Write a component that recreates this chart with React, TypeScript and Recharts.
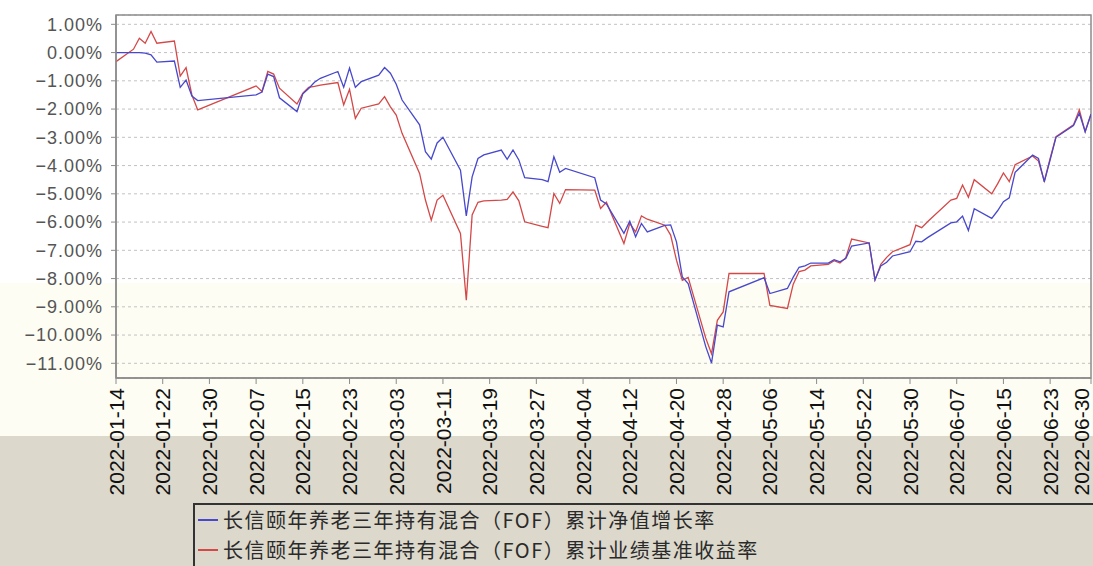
import React from 'react';
import { LineChart, Line, XAxis, YAxis, CartesianGrid, ReferenceArea } from 'recharts';

// Trading days shown in the chart
const dates = [
  '2022-01-14', '2022-01-17', '2022-01-18', '2022-01-19', '2022-01-20', '2022-01-21', '2022-01-24', '2022-01-25', '2022-01-26', '2022-01-27', '2022-01-28',
  '2022-02-07', '2022-02-08', '2022-02-09', '2022-02-10', '2022-02-11', '2022-02-14', '2022-02-15', '2022-02-16', '2022-02-17', '2022-02-18', '2022-02-21', '2022-02-22', '2022-02-23', '2022-02-24', '2022-02-25', '2022-02-28',
  '2022-03-01', '2022-03-02', '2022-03-03', '2022-03-04', '2022-03-07', '2022-03-08', '2022-03-09', '2022-03-10', '2022-03-11', '2022-03-14', '2022-03-15', '2022-03-16', '2022-03-17', '2022-03-18', '2022-03-21', '2022-03-22', '2022-03-23', '2022-03-24', '2022-03-25', '2022-03-28', '2022-03-29', '2022-03-30', '2022-03-31',
  '2022-04-01', '2022-04-06', '2022-04-07', '2022-04-08', '2022-04-11', '2022-04-12', '2022-04-13', '2022-04-14', '2022-04-15', '2022-04-18', '2022-04-19', '2022-04-20', '2022-04-21', '2022-04-22', '2022-04-25', '2022-04-26', '2022-04-27', '2022-04-28', '2022-04-29',
  '2022-05-05', '2022-05-06', '2022-05-09', '2022-05-10', '2022-05-11', '2022-05-12', '2022-05-13', '2022-05-16', '2022-05-17', '2022-05-18', '2022-05-19', '2022-05-20', '2022-05-23', '2022-05-24', '2022-05-25', '2022-05-26', '2022-05-27', '2022-05-30', '2022-05-31',
  '2022-06-01', '2022-06-02', '2022-06-06', '2022-06-07', '2022-06-08', '2022-06-09', '2022-06-10', '2022-06-13', '2022-06-14', '2022-06-15', '2022-06-16', '2022-06-17', '2022-06-20', '2022-06-21', '2022-06-22', '2022-06-23', '2022-06-24', '2022-06-27', '2022-06-28', '2022-06-29', '2022-06-30',
];

// 累计净值增长率 (%)
const navGrowth = [
  0, 0, 0, -0.02, -0.08, -0.34, -0.3, -1.23, -0.97, -1.54, -1.7,
  -1.5, -1.4, -0.76, -0.85, -1.6, -2.09, -1.46, -1.27, -1.05, -0.91, -0.67, -1.23, -0.55, -1.23, -1.03, -0.8,
  -0.53, -0.73, -1.12, -1.68, -2.56, -3.51, -3.77, -3.2, -3.0, -4.16, -5.78, -4.4, -3.75, -3.62, -3.45, -3.78, -3.45, -3.8, -4.43, -4.5, -4.57, -3.69, -4.24,
  -4.1, -4.43, -5.22, -5.36, -6.4, -5.97, -6.52, -6.05, -6.35, -6.12, -6.1, -6.7, -7.94, -8.18, -10.4, -10.99, -9.65, -9.71, -8.47,
  -7.97, -8.53, -8.35, -7.95, -7.6, -7.55, -7.45, -7.45, -7.33, -7.41, -7.29, -6.85, -6.74, -8.05, -7.55, -7.42, -7.2, -7.05, -6.68,
  -6.7, -6.55, -6.03, -5.99, -5.79, -6.3, -5.53, -5.87, -5.6, -5.28, -5.14, -4.24, -3.63, -3.75, -4.58, -3.8, -3.0, -2.58, -2.15, -2.8, -2.18,
];

// 累计业绩基准收益率 (%)
const benchmark = [
  -0.32, 0.12, 0.51, 0.33, 0.75, 0.33, 0.41, -0.83, -0.53, -1.5, -2.03,
  -1.18, -1.38, -0.67, -0.76, -1.26, -1.82, -1.44, -1.23, -1.2, -1.15, -1.06, -1.85, -1.3, -2.33, -1.97, -1.82,
  -1.56, -1.92, -2.21, -2.86, -4.28, -5.22, -5.93, -5.22, -5.05, -6.4, -8.77, -5.75, -5.3, -5.25, -5.22, -5.2, -4.93, -5.25, -5.99, -6.15, -6.2, -4.99, -5.34,
  -4.85, -4.87, -5.52, -5.3, -6.76, -6.05, -6.35, -5.78, -5.9, -6.11, -6.46, -7.35, -8.06, -7.96, -10.1, -10.66, -9.48, -9.18, -7.82,
  -7.82, -8.95, -9.06, -8.2, -7.75, -7.7, -7.55, -7.5, -7.37, -7.45, -7.26, -6.6, -6.74, -8.05, -7.5, -7.25, -7.05, -6.8, -6.11,
  -6.2, -5.99, -5.22, -5.16, -4.69, -5.12, -4.5, -5.0, -4.65, -4.26, -4.57, -3.97, -3.66, -3.84, -4.55, -3.75, -2.98, -2.56, -2.03, -2.8, -2.18,
];

const seriesNames = [
  '长信颐年养老三年持有混合（FOF）累计净值增长率',
  '长信颐年养老三年持有混合（FOF）累计业绩基准收益率',
];
const seriesColors = ['#4848cc', '#d44848'];

const yTicks = [1, 0, -1, -2, -3, -4, -5, -6, -7, -8, -9, -10, -11];
const yDomain: [number, number] = [-11.52, 1.33];
const startDate = '2022-01-14';
const endDate = '2022-06-30';
const tickStepDays = 8;

const DAY = 86400000;
const toUtc = (s: string) => {
  const [y, m, d] = s.split('-').map(Number);
  return Date.UTC(y, m - 1, d);
};
const START = toUtc(startDate);
const dayOf = (s: string) => Math.round((toUtc(s) - START) / DAY);
const fmtDay = (d: number) => new Date(START + d * DAY).toISOString().slice(0, 10);
const lastDay = dayOf(endDate);
const xTicks: number[] = [];
for (let d = 0; d <= lastDay; d += tickStepDays) xTicks.push(d);
if (xTicks[xTicks.length - 1] !== lastDay) xTicks.push(lastDay);

const data = dates.map((s, i) => ({ day: dayOf(s), nav: navGrowth[i], bench: benchmark[i] }));

const fmtPct = (v: number) => (v < 0 ? '\u2212' : '') + Math.abs(v).toFixed(2) + '%';

const XTick = (props: any) => {
  const { x, y, payload } = props;
  const tx = Math.min(x, 1081);
  return (
    <text
      transform={`translate(${tx},${y + 2}) rotate(-90)`}
      textAnchor="end"
      dy="0.36em"
      fontSize={21}
      fontFamily="'Liberation Sans', Arial, sans-serif"
      fill="#111"
    >
      {fmtDay(payload.value)}
    </text>
  );
};

export default function App() {
  return (
    <div style={{ position: 'absolute', left: 0, top: 0, width: 1093, height: 566, overflow: 'hidden', background: '#ffffff' }}>
      <div style={{ position: 'absolute', left: 0, top: 283, width: 1093, height: 153, background: '#fdfdf4' }} />
      <div style={{ position: 'absolute', left: 0, top: 436, width: 1093, height: 130, background: '#dcd8cc' }} />
      <div style={{ position: 'absolute', left: 0, top: 0 }}>
        <LineChart width={1093} height={566} data={data} margin={{ top: 15, right: 2, left: 0, bottom: 0 }}>
          <CartesianGrid horizontal vertical={false} strokeDasharray="3 3" stroke="#c2c2c2" />
          <XAxis
            dataKey="day"
            type="number"
            domain={[0, lastDay]}
            ticks={xTicks}
            interval={0}
            height={188}
            tickSize={6}
            tick={<XTick />}
            axisLine={{ stroke: '#8c8c8c', strokeWidth: 1.5 }}
            tickLine={{ stroke: '#8c8c8c' }}
            allowDataOverflow
          />
          <YAxis
            type="number"
            domain={yDomain}
            ticks={yTicks}
            interval={0}
            width={116}
            tickSize={5}
            tickMargin={8}
            tickFormatter={fmtPct}
            tick={{ fontSize: 18, fill: '#555', fontFamily: "'Liberation Sans', Arial, sans-serif", letterSpacing: 1 }}
            axisLine={{ stroke: '#8c8c8c', strokeWidth: 1.5 }}
            tickLine={{ stroke: '#8c8c8c' }}
            allowDataOverflow
          />
          <ReferenceArea x1={0} x2={lastDay} y1={yDomain[0]} y2={yDomain[1]} fill="none" stroke="#8c8c8c" strokeWidth={1.5} ifOverflow="visible" />
          <Line type="linear" dataKey="bench" name={seriesNames[1]} stroke={seriesColors[1]} strokeWidth={1.3} dot={false} isAnimationActive={false} />
          <Line type="linear" dataKey="nav" name={seriesNames[0]} stroke={seriesColors[0]} strokeWidth={1.3} dot={false} isAnimationActive={false} />
        </LineChart>
      </div>
      <div
        style={{
          position: 'absolute', left: 193, top: 503, width: 898, height: 61,
          borderTop: '2px solid #333', borderLeft: '2px solid #333', background: '#dcd8cc',
          fontFamily: "'Noto Sans CJK SC', sans-serif", fontSize: 20, color: '#2a2a2a',
        }}
      >
        {seriesNames.map((n, i) => (
          <div key={n} style={{ position: 'absolute', left: 3, top: i * 30, height: 29, display: 'flex', alignItems: 'center', whiteSpace: 'nowrap' }}>
            <span style={{ display: 'inline-block', width: 20, height: 0, borderTop: `2px solid ${seriesColors[i]}`, marginRight: 5 }} />
            <span style={{ lineHeight: '29px', letterSpacing: 1.5 }}>{n}</span>
          </div>
        ))}
      </div>
    </div>
  );
}
